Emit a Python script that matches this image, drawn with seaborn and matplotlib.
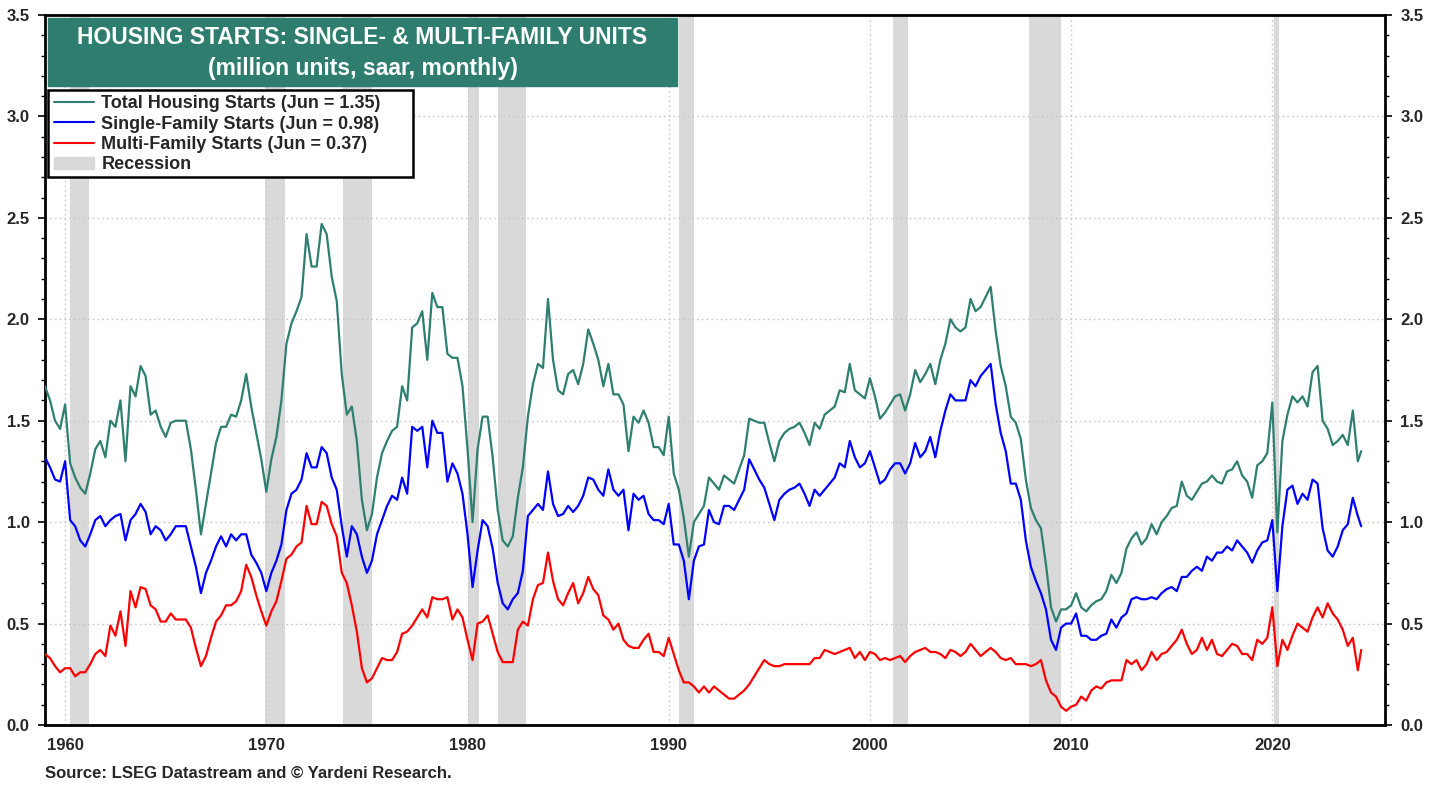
import numpy as np
import pandas as pd
import matplotlib
matplotlib.use("Agg")
import matplotlib.pyplot as plt
from matplotlib.patches import Rectangle, Patch
from matplotlib.lines import Line2D
from matplotlib.ticker import MultipleLocator, FormatStrFormatter
import seaborn as sns

# ---------------- data (million units, saar; quarterly readings, last = Jun 2024) ----------------
single = [
    1.32, 1.27, 1.21, 1.20,  1.30, 1.01, 0.98, 0.91,  0.88, 0.94, 1.01, 1.03,  0.98, 1.01, 1.03, 1.04,
    0.91, 1.01, 1.04, 1.09,  1.05, 0.94, 0.98, 0.96,  0.91, 0.94, 0.98, 0.98,  0.98, 0.88, 0.78, 0.65,
    0.75, 0.81, 0.88, 0.93,  0.88, 0.94, 0.91, 0.94,  0.94, 0.84, 0.80, 0.75,  0.66, 0.75, 0.81, 0.89,
    1.06, 1.14, 1.16, 1.21,  1.34, 1.27, 1.27, 1.37,  1.34, 1.22, 1.16, 0.98,  0.83, 0.98, 0.94, 0.83,
    0.75, 0.81, 0.94, 1.01,  1.08, 1.13, 1.11, 1.22,  1.14, 1.47, 1.45, 1.47,  1.27, 1.50, 1.44, 1.44,
    1.20, 1.29, 1.24, 1.14,  0.94, 0.68, 0.86, 1.01,  0.98, 0.87, 0.70, 0.60,  0.57, 0.62, 0.65, 0.76,
    1.03, 1.06, 1.09, 1.06,  1.25, 1.09, 1.03, 1.04,  1.08, 1.05, 1.08, 1.13,  1.22, 1.21, 1.16, 1.13,
    1.26, 1.16, 1.13, 1.16,  0.96, 1.14, 1.11, 1.13,  1.04, 1.01, 1.01, 0.99,  1.09, 0.89, 0.89, 0.81,
    0.62, 0.81, 0.88, 0.89,  1.06, 1.00, 0.99, 1.08,  1.08, 1.06, 1.11, 1.16,  1.31, 1.26, 1.21, 1.17,
    1.09, 1.01, 1.11, 1.14,  1.16, 1.17, 1.19, 1.14,  1.08, 1.16, 1.13, 1.16,  1.19, 1.22, 1.29, 1.27,
    1.40, 1.32, 1.27, 1.29,  1.35, 1.27, 1.19, 1.21,  1.26, 1.29, 1.29, 1.24,  1.29, 1.39, 1.32, 1.35,
    1.42, 1.32, 1.45, 1.55,  1.63, 1.60, 1.60, 1.60,  1.70, 1.67, 1.72, 1.75,  1.78, 1.58, 1.44, 1.35,
    1.19, 1.19, 1.11, 0.91,  0.78, 0.71, 0.65, 0.57,  0.42, 0.37, 0.48, 0.50,  0.50, 0.55, 0.44, 0.44,
    0.42, 0.42, 0.44, 0.45,  0.52, 0.48, 0.53, 0.55,  0.62, 0.63, 0.62, 0.62,  0.63, 0.62, 0.65, 0.67,
    0.68, 0.66, 0.73, 0.73,  0.76, 0.78, 0.76, 0.83,  0.81, 0.85, 0.85, 0.88,  0.86, 0.91, 0.88, 0.85,
    0.80, 0.86, 0.90, 0.91,  1.01, 0.66, 0.98, 1.16,  1.18, 1.09, 1.14, 1.11,  1.21, 1.19, 0.97, 0.86,
    0.83, 0.88, 0.96, 0.99,  1.12, 1.03, 0.98,
]
multi = [
    0.35, 0.33, 0.29, 0.26,  0.28, 0.28, 0.24, 0.26,  0.26, 0.30, 0.35, 0.37,  0.34, 0.49, 0.44, 0.56,
    0.39, 0.66, 0.58, 0.68,  0.67, 0.59, 0.57, 0.51,  0.51, 0.55, 0.52, 0.52,  0.52, 0.48, 0.38, 0.29,
    0.34, 0.43, 0.51, 0.54,  0.59, 0.59, 0.61, 0.66,  0.79, 0.73, 0.64, 0.56,  0.49, 0.56, 0.61, 0.71,
    0.82, 0.84, 0.88, 0.90,  1.08, 0.99, 0.99, 1.10,  1.08, 0.99, 0.93, 0.75,  0.70, 0.59, 0.46, 0.28,
    0.21, 0.23, 0.28, 0.33,  0.32, 0.32, 0.36, 0.45,  0.46, 0.49, 0.53, 0.57,  0.53, 0.63, 0.62, 0.62,
    0.63, 0.52, 0.57, 0.53,  0.42, 0.32, 0.50, 0.51,  0.54, 0.45, 0.36, 0.31,  0.31, 0.31, 0.47, 0.51,
    0.49, 0.62, 0.69, 0.70,  0.85, 0.71, 0.62, 0.59,  0.65, 0.70, 0.60, 0.65,  0.73, 0.67, 0.64, 0.54,
    0.52, 0.47, 0.50, 0.42,  0.39, 0.38, 0.38, 0.42,  0.45, 0.36, 0.36, 0.34,  0.43, 0.35, 0.27, 0.21,
    0.21, 0.19, 0.16, 0.19,  0.16, 0.19, 0.17, 0.15,  0.13, 0.13, 0.15, 0.17,  0.20, 0.24, 0.28, 0.32,
    0.30, 0.29, 0.29, 0.30,  0.30, 0.30, 0.30, 0.30,  0.30, 0.33, 0.33, 0.37,  0.36, 0.35, 0.36, 0.37,
    0.38, 0.33, 0.36, 0.32,  0.36, 0.35, 0.32, 0.33,  0.32, 0.33, 0.34, 0.31,  0.34, 0.36, 0.37, 0.38,
    0.36, 0.36, 0.35, 0.33,  0.37, 0.36, 0.34, 0.36,  0.40, 0.37, 0.34, 0.36,  0.38, 0.36, 0.33, 0.32,
    0.33, 0.30, 0.30, 0.30,  0.29, 0.30, 0.32, 0.22,  0.16, 0.14, 0.09, 0.07,  0.09, 0.10, 0.14, 0.12,
    0.17, 0.19, 0.18, 0.21,  0.22, 0.22, 0.22, 0.32,  0.30, 0.32, 0.27, 0.30,  0.36, 0.32, 0.35, 0.36,
    0.39, 0.42, 0.47, 0.40,  0.35, 0.37, 0.43, 0.37,  0.42, 0.35, 0.34, 0.37,  0.40, 0.39, 0.35, 0.35,
    0.32, 0.42, 0.40, 0.43,  0.58, 0.29, 0.42, 0.37,  0.44, 0.50, 0.48, 0.46,  0.53, 0.58, 0.53, 0.60,
    0.55, 0.52, 0.47, 0.39,  0.43, 0.27, 0.37,
]
total = [
    1.67, 1.60, 1.50, 1.46,  1.58, 1.29, 1.22, 1.17,  1.14, 1.24, 1.36, 1.40,  1.32, 1.50, 1.47, 1.60,
    1.30, 1.67, 1.62, 1.77,  1.72, 1.53, 1.55, 1.47,  1.42, 1.49, 1.50, 1.50,  1.50, 1.36, 1.16, 0.94,
    1.09, 1.24, 1.39, 1.47,  1.47, 1.53, 1.52, 1.60,  1.73, 1.57, 1.44, 1.31,  1.15, 1.31, 1.42, 1.60,
    1.88, 1.98, 2.04, 2.11,  2.42, 2.26, 2.26, 2.47,  2.42, 2.21, 2.09, 1.73,  1.53, 1.57, 1.40, 1.11,
    0.96, 1.04, 1.22, 1.34,  1.40, 1.45, 1.47, 1.67,  1.60, 1.96, 1.98, 2.04,  1.80, 2.13, 2.06, 2.06,
    1.83, 1.81, 1.81, 1.67,  1.36, 1.00, 1.36, 1.52,  1.52, 1.32, 1.06, 0.91,  0.88, 0.93, 1.12, 1.27,
    1.52, 1.68, 1.78, 1.76,  2.10, 1.80, 1.65, 1.63,  1.73, 1.75, 1.68, 1.78,  1.95, 1.88, 1.80, 1.67,
    1.78, 1.63, 1.63, 1.58,  1.35, 1.52, 1.49, 1.55,  1.49, 1.37, 1.37, 1.33,  1.52, 1.24, 1.16, 1.02,
    0.83, 1.00, 1.04, 1.08,  1.22, 1.19, 1.16, 1.23,  1.21, 1.19, 1.26, 1.33,  1.51, 1.50, 1.49, 1.49,
    1.39, 1.30, 1.40, 1.44,  1.46, 1.47, 1.49, 1.44,  1.38, 1.49, 1.46, 1.53,  1.55, 1.57, 1.65, 1.64,
    1.78, 1.65, 1.63, 1.61,  1.71, 1.62, 1.51, 1.54,  1.58, 1.62, 1.63, 1.55,  1.63, 1.75, 1.69, 1.73,
    1.78, 1.68, 1.80, 1.88,  2.00, 1.96, 1.94, 1.96,  2.10, 2.04, 2.06, 2.11,  2.16, 1.94, 1.77, 1.67,
    1.52, 1.49, 1.41, 1.21,  1.07, 1.01, 0.97, 0.79,  0.58, 0.51, 0.57, 0.57,  0.59, 0.65, 0.58, 0.56,
    0.59, 0.61, 0.62, 0.66,  0.74, 0.70, 0.75, 0.87,  0.92, 0.95, 0.89, 0.92,  0.99, 0.94, 1.00, 1.03,
    1.07, 1.08, 1.20, 1.13,  1.11, 1.15, 1.19, 1.20,  1.23, 1.20, 1.19, 1.25,  1.26, 1.30, 1.23, 1.20,
    1.12, 1.28, 1.30, 1.34,  1.59, 0.95, 1.40, 1.53,  1.62, 1.59, 1.62, 1.57,  1.74, 1.77, 1.50, 1.46,
    1.38, 1.40, 1.43, 1.38,  1.55, 1.30, 1.35,
]
recession_start = ["1960-04", "1969-12", "1973-11", "1980-01", "1981-07", "1990-07", "2001-03", "2007-12", "2020-02"]
recession_end = ["1961-02", "1970-11", "1975-03", "1980-07", "1982-11", "1991-03", "2001-11", "2009-06", "2020-04"]

series_labels = ["Total Housing Starts (Jun = 1.35)",
                 "Single-Family Starts (Jun = 0.98)",
                 "Multi-Family Starts (Jun = 0.37)"]
title_lines = ["HOUSING STARTS: SINGLE- & MULTI-FAMILY UNITS", "(million units, saar, monthly)"]
source_text = "Source: LSEG Datastream and \u00a9 Yardeni Research."
decade_ticks = [1960, 1970, 1980, 1990, 2000, 2010, 2020]

# ---------------- build frame ----------------
dates = list(pd.date_range("1959-01-01", "2024-04-01", freq="QS")) + [pd.Timestamp("2024-06-01")]
dates = pd.DatetimeIndex(dates)
year_frac = dates.year + (dates.month - 1) / 12.0
df = pd.DataFrame({"t": year_frac, "total": total, "single": single, "multi": multi})


def dec(s):
    d = pd.Timestamp(s + "-01")
    return d.year + (d.month - 1) / 12.0


# ---------------- style ----------------
sns.set_theme(style="white")
plt.rcParams["font.family"] = ["Liberation Sans", "DejaVu Sans"]
plt.rcParams["font.weight"] = "bold"

TEAL = "#2E7F70"
BLUE = "#0000FF"
RED = "#FF0000"
GREY = "#D9D9D9"

W, H = 1439, 785
AX_L, AX_R, AX_T, AX_B = 45, 1385, 15, 725
fig = plt.figure(figsize=(W / 100, H / 100), dpi=100)
fig.patch.set_facecolor("white")
ax = fig.add_axes([AX_L / W, 1 - AX_B / H, (AX_R - AX_L) / W, (AX_B - AX_T) / H])


def axx(px):
    return (px - AX_L) / (AX_R - AX_L)


def axy(py):
    return 1 - (py - AX_T) / (AX_B - AX_T)


# recession bands
for s, e in zip(recession_start, recession_end):
    ax.axvspan(dec(s), dec(e) + 1 / 12, color=GREY, lw=0, zorder=0.5)

# grid
for x in decade_ticks:
    ax.axvline(x, color="#C8C8C8", lw=1.0, ls=(0, (1.2, 2.2)), zorder=0.8)
for y in np.arange(0.5, 3.5, 0.5):
    ax.axhline(y, color="#C8C8C8", lw=1.0, ls=(0, (1.2, 2.2)), zorder=0.8)

lw = 1.6
sns.lineplot(data=df, x="t", y="multi", ax=ax, color=RED, lw=lw, zorder=3, legend=False)
sns.lineplot(data=df, x="t", y="single", ax=ax, color=BLUE, lw=lw, zorder=4, legend=False)
sns.lineplot(data=df, x="t", y="total", ax=ax, color=TEAL, lw=lw, zorder=5, legend=False)

ax.set_xlim(1959.0, 2025.6)
ax.set_ylim(0, 3.5)
ax.set_xlabel("")
ax.set_ylabel("")

ax.set_xticks(decade_ticks)
ax.set_xticklabels([str(d) for d in decade_ticks])
ax.xaxis.set_minor_locator(MultipleLocator(1))
ax.yaxis.set_major_locator(MultipleLocator(0.5))
ax.yaxis.set_minor_locator(MultipleLocator(0.1))
ax.yaxis.set_major_formatter(FormatStrFormatter("%.1f"))

ax.tick_params(axis="both", which="both", direction="out", color="black")
ax.tick_params(axis="y", which="both", left=True, right=True, labelleft=True, labelright=True)
ax.tick_params(axis="y", which="major", length=5, width=1.2, labelsize=12, pad=6)
ax.tick_params(axis="y", which="minor", length=3, width=1.0)
ax.tick_params(axis="x", which="major", length=5, width=1.2, labelsize=12, pad=4)
ax.tick_params(axis="x", which="minor", length=3, width=1.0)
for lab in ax.get_xticklabels() + ax.get_yticklabels():
    lab.set_fontweight("bold")

for sp in ax.spines.values():
    sp.set_visible(True)
    sp.set_color("black")
    sp.set_linewidth(2.0)
ax.grid(False)

# title box
x0, x1 = axx(48), axx(677)
y0, y1 = axy(86), axy(18)
ax.add_patch(Rectangle((x0, y0), x1 - x0, y1 - y0, transform=ax.transAxes,
                       facecolor="#2E7D6E", edgecolor="#2E7D6E", zorder=10))
xc = (x0 + x1) / 2
ax.text(xc, axy(37), title_lines[0], transform=ax.transAxes, ha="center", va="center",
        color="white", fontsize=16.5, fontweight="bold", zorder=11)
ax.text(xc, axy(69), title_lines[1], transform=ax.transAxes, ha="center", va="center",
        color="white", fontsize=16.5, fontweight="bold", zorder=11)

# legend frame (drawn as a box of fixed size) and legend entries
ax.add_patch(Rectangle((axx(48), axy(177)), axx(413) - axx(48), axy(90) - axy(177),
                       transform=ax.transAxes, facecolor="white", edgecolor="black",
                       linewidth=1.8, zorder=11))
handles = [Line2D([0], [0], color=TEAL, lw=1.5),
           Line2D([0], [0], color=BLUE, lw=1.5),
           Line2D([0], [0], color=RED, lw=1.5),
           Patch(facecolor=GREY, edgecolor=GREY)]
labels = series_labels + ["Recession"]
leg = ax.legend(handles, labels, loc="upper left", bbox_to_anchor=(axx(49), axy(90)),
                borderaxespad=0, frameon=False,
                prop={"weight": "bold", "size": 13}, handlelength=2.2, handletextpad=0.4,
                labelspacing=0.18, borderpad=0.3)
leg.set_zorder(12)

fig.text(AX_L / W, 1 - 774 / H, source_text, ha="left", va="center", fontsize=12, fontweight="bold")

fig.savefig("out.png", dpi=100, facecolor="white")
